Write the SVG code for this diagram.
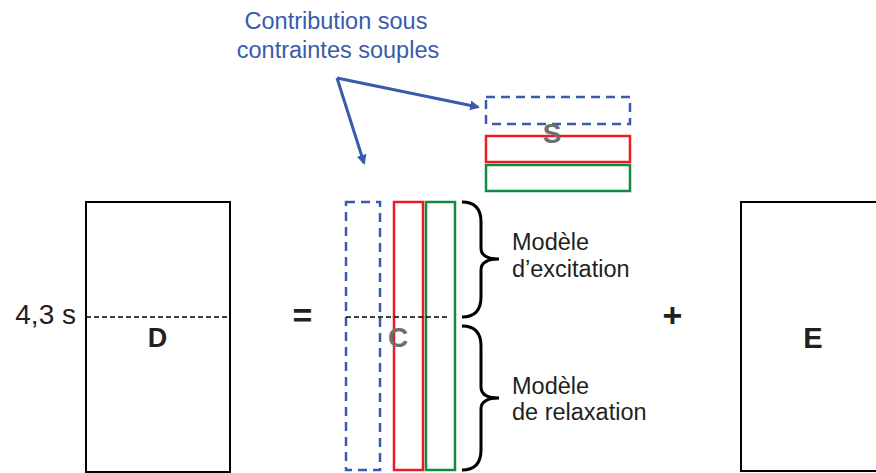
<svg xmlns="http://www.w3.org/2000/svg" width="876" height="473" viewBox="0 0 876 473">
<style>
text{font-family:"Liberation Sans",Arial,sans-serif}
.box{fill:none;stroke:#000;stroke-width:2}
.blue{fill:none;stroke:#3a5bab;stroke-width:2.5;stroke-dasharray:9 6}
.red{fill:none;stroke:#ed1c24;stroke-width:2.5}
.green{fill:none;stroke:#138a43;stroke-width:2.5}
.cut{stroke:#000;stroke-width:1.5;stroke-dasharray:5 3}
.brace{fill:none;stroke:#000;stroke-width:3}
.lbl{font-size:23.5px;fill:#231f20}
.big{font-weight:bold;fill:#231f20;text-anchor:middle}
.grey{font-weight:bold;fill:#6d6e71;text-anchor:middle;font-size:28px}
.note{font-size:23.5px;fill:#3a5bab;text-anchor:middle}
.arr{stroke:#3a5bab;stroke-width:3;fill:none}
</style>
<defs>
<marker id="ah" markerWidth="10" markerHeight="10" refX="8" refY="5" orient="auto" markerUnits="userSpaceOnUse" viewBox="0 0 10 10">
<path d="M0,0 L10,5 L0,10 z" fill="#3a5bab"/>
</marker>
</defs>
<g id="D">
<rect class="box" x="86" y="202" width="144" height="270"/>
<line class="cut" x1="86" y1="317" x2="230" y2="317"/>
<text x="76" y="324" text-anchor="end" style="font-size:28px;fill:#231f20">4,3 s</text>
<text class="big" x="157.5" y="347" style="font-size:27px">D</text>
</g>
<g id="eq"><text class="big" x="302.5" y="327" style="font-size:34px">=</text></g>
<g id="C">
<rect class="blue" x="346" y="202" width="34" height="268"/>
<rect class="red" x="394" y="202" width="29" height="268"/>
<rect class="green" x="426" y="202" width="29" height="268"/>
<line class="cut" x1="346" y1="317" x2="450" y2="317"/>
<text class="grey" x="398" y="347">C</text>
</g>
<g id="S">
<rect class="blue" x="486" y="97" width="144" height="27"/>
<rect class="red" x="486" y="136" width="144" height="26"/>
<rect class="green" x="486" y="165" width="144" height="26"/>
<text class="grey" x="552" y="143">S</text>
</g>
<g id="braces">
<path class="brace" d="M462,202 Q481,202 481,222 L481,248 Q481,259 499,259 Q481,259 481,270 L481,297 Q481,317 462,317"/>
<path class="brace" d="M462,326 Q481,326 481,346 L481,387 Q481,398 499,398 Q481,398 481,409 L481,450 Q481,470 462,470"/>
<text class="lbl" x="512" y="250">Modèle</text>
<text class="lbl" x="512" y="277">d’excitation</text>
<text class="lbl" x="512" y="394">Modèle</text>
<text class="lbl" x="512" y="420">de relaxation</text>
</g>
<g id="plus"><text class="big" x="672.5" y="327" style="font-size:34px">+</text></g>
<g id="E">
<rect class="box" x="741" y="202" width="140" height="269"/>
<text class="big" x="813" y="348" style="font-size:29px">E</text>
</g>
<g id="note">
<text class="note" x="336" y="29">Contribution sous</text>
<text class="note" x="338" y="58">contraintes souples</text>
</g>
<g id="connectors">
<line class="arr" x1="337" y1="78" x2="478" y2="107" marker-end="url(#ah)"/>
<line class="arr" x1="337" y1="78" x2="364" y2="163" marker-end="url(#ah)"/>
</g>
</svg>
